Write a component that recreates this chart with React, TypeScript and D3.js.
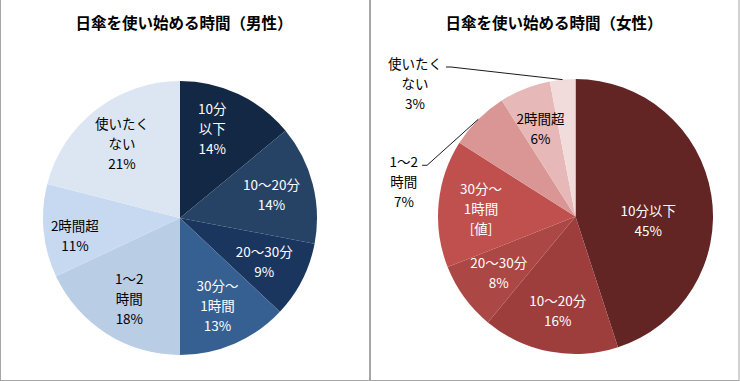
import React, { useEffect } from "react";
import * as d3 from "d3";

const maleTitle = "日傘を使い始める時間（男性）";
const femaleTitle = "日傘を使い始める時間（女性）";

const categories = ["10分以下", "10～20分", "20～30分", "30分～1時間", "1～2時間", "2時間超", "使いたくない"];

const maleLabelLines = [["10分", "以下"], ["10～20分"], ["20～30分"], ["30分～", "1時間"], ["1～2", "時間"], ["2時間超"], ["使いたく", "ない"]];
const maleValues = [14, 14, 9, 13, 18, 11, 21];
const maleValueLabels = ["14%", "14%", "9%", "13%", "18%", "11%", "21%"];
const maleColors = ["#132845", "#264366", "#1B365E", "#376092", "#B9CDE5", "#C6D9F1", "#DCE6F2"];

const femaleLabelLines = [["10分以下"], ["10～20分"], ["20～30分"], ["30分～", "1時間"], ["1～2", "時間"], ["2時間超"], ["使いたく", "ない"]];
const femaleValues = [45, 16, 8, 15, 7, 6, 3];
const femaleValueLabels = ["45%", "16%", "8%", "[値]", "7%", "6%", "3%"];
const femaleColors = ["#632424", "#9D3E3C", "#AB4744", "#C0504D", "#D99694", "#E6B9B8", "#F2DCDB"];

const W = 740;
const H = 381;
const FONT = "'Noto Sans CJK JP', 'Noto Sans', sans-serif";
const LABEL_SIZE = 13.5;
const LINE_H = 20;

type ChartCfg = {
  title: string;
  titleX: number;
  cx: number;
  cy: number;
  r: number;
  lines: string[][];
  values: number[];
  valueLabels: string[];
  colors: string[];
  nudges: Record<string, [number, number]>;
  outside: Record<string, [number, number]>;
};

const charts: ChartCfg[] = [
  {
    title: maleTitle,
    titleX: 184,
    cx: 180,
    cy: 218,
    r: 137,
    lines: maleLabelLines,
    values: maleValues,
    valueLabels: maleValueLabels,
    colors: maleColors,
    nudges: { "10分以下": [-8, -4], "2時間超": [-11, 8] },
    outside: {},
  },
  {
    title: femaleTitle,
    titleX: 554,
    cx: 575.5,
    cy: 216.5,
    r: 137.5,
    lines: femaleLabelLines,
    values: femaleValues,
    valueLabels: femaleValueLabels,
    colors: femaleColors,
    nudges: { "10分以下": [-21, 18] },
    outside: { "使いたくない": [-147.6, 3.4], "1～2時間": [-74.4, 62] },
  },
];

let measureCtx: CanvasRenderingContext2D | null = null;
function textWidth(s: string): number {
  if (!measureCtx) {
    const c = document.createElement("canvas");
    measureCtx = c.getContext("2d");
  }
  if (!measureCtx) return s.length * LABEL_SIZE;
  measureCtx.font = `${LABEL_SIZE}px ${FONT}`;
  return measureCtx.measureText(s).width;
}

function PieChart({ cfg }: { cfg: ChartCfg }) {
  const pie = d3
    .pie<number>()
    .sort(null)
    .value((d) => d)
    .startAngle(0)
    .endAngle(2 * Math.PI);
  const arcs = pie(cfg.values);
  const arcGen = d3.arc<d3.PieArcDatum<number>>().innerRadius(0).outerRadius(cfg.r);
  const labelR = cfg.r * 0.69;
  const labelArc = d3.arc<d3.PieArcDatum<number>>().innerRadius(labelR).outerRadius(labelR);
  const edgeArc = d3.arc<d3.PieArcDatum<number>>().innerRadius(cfg.r).outerRadius(cfg.r);

  return (
    <g>
      <text
        x={cfg.titleX}
        y={22}
        textAnchor="middle"
        dominantBaseline="central"
        fontFamily={FONT}
        fontWeight="bold"
        fontSize={15.5}
        fill="#000"
      >
        {cfg.title}
      </text>
      <g transform={`translate(${cfg.cx},${cfg.cy})`}>
        {arcs.map((a, i) => (
          <path key={i} d={arcGen(a) || ""} fill={cfg.colors[i]} />
        ))}
      </g>
      {arcs.map((a, i) => {
        const name = categories[i];
        const textLines = [...cfg.lines[i], cfg.valueLabels[i]];
        const out = cfg.outside[name];
        let lx: number;
        let ly: number;
        let fill: string;
        let leader: string | null = null;
        if (out) {
          const [ex, ey] = edgeArc.centroid(a);
          const px = cfg.cx + ex;
          const py = cfg.cy + ey;
          lx = px + out[0];
          ly = py + out[1];
          fill = "#000";
          const firstY = ly - ((textLines.length - 1) / 2) * LINE_H;
          const sx = lx + textWidth(textLines[0]) / 2 + 4;
          const sy = firstY + 4;
          leader = `M${sx},${sy}L${sx + 5},${sy}L${px},${py}`;
        } else {
          const [c0, c1] = labelArc.centroid(a);
          const n = cfg.nudges[name] || [0, 0];
          lx = cfg.cx + c0 + n[0];
          ly = cfg.cy + c1 + n[1];
          fill = d3.lab(cfg.colors[i]).l < 60 ? "#fff" : "#000";
        }
        return (
          <g key={`l${i}`}>
            {leader && <path d={leader} fill="none" stroke="#000" strokeWidth={0.9} />}
            {textLines.map((t, j) => (
              <text
                key={j}
                x={lx}
                y={ly + (j - (textLines.length - 1) / 2) * LINE_H}
                textAnchor="middle"
                dominantBaseline="central"
                fontFamily={FONT}
                fontSize={LABEL_SIZE}
                fill={fill}
              >
                {t}
              </text>
            ))}
          </g>
        );
      })}
    </g>
  );
}

export default function App() {
  useEffect(() => {
    document.body.style.margin = "0";
  }, []);
  return (
    <svg width={W} height={H} style={{ display: "block", background: "#fff" }}>
      <rect x={0} y={0} width={W} height={H} fill="#fff" />
      <rect x={0.5} y={-2} width={369} height={382.5} fill="none" stroke="#A6A6A6" strokeWidth={1} />
      <rect x={370.5} y={-2} width={368.5} height={382.5} fill="none" stroke="#A6A6A6" strokeWidth={1} />
      {charts.map((c, i) => (
        <PieChart key={i} cfg={c} />
      ))}
    </svg>
  );
}
